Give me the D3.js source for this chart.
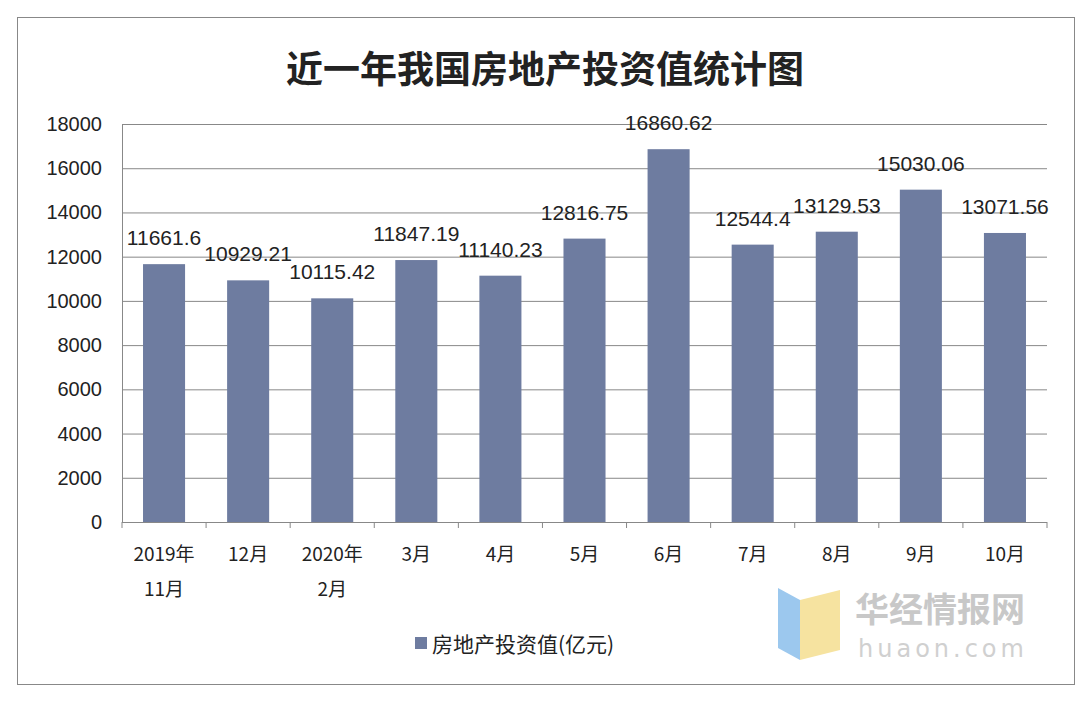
<!DOCTYPE html><html><head><meta charset="utf-8">
<script src="https://cdn.jsdelivr.net/npm/d3@7"></script>
<style>body{margin:0;background:#fff}</style></head><body><svg id="c" width="1092" height="702"></svg>
<script>
const categories=[["2019年","11月"],["12月"],["2020年","2月"],["3月"],["4月"],["5月"],["6月"],["7月"],["8月"],["9月"],["10月"]];
const values=[11661.6,10929.21,10115.42,11847.19,11140.23,12816.75,16860.62,12544.4,13129.53,15030.06,13071.56];
const labels=["11661.6","10929.21","10115.42","11847.19","11140.23","12816.75","16860.62","12544.4","13129.53","15030.06","13071.56"];
const yTicks=[0,2000,4000,6000,8000,10000,12000,14000,16000,18000];
const svg=d3.select("#c");
svg.append("rect").attr("x",17.5).attr("y",17.5).attr("width",1057).attr("height",667).attr("fill","#fff").attr("stroke","#888");
svg.append("text").attr("x",545).attr("y",83).attr("text-anchor","middle").attr("font-family","Noto Sans CJK SC").attr("font-weight","bold").attr("font-size",37).attr("fill","#222").text("近一年我国房地产投资值统计图");
const x=d3.scaleBand().domain(d3.range(11)).range([122,1047]).paddingInner(0.5).paddingOuter(0.25);
const y=d3.scaleLinear().domain([0,18000]).range([522,124]);
svg.append("g").selectAll("line").data(yTicks).join("line").attr("x1",122).attr("x2",1047).attr("y1",d=>y(d)+.5).attr("y2",d=>y(d)+.5).attr("stroke","#888");
svg.append("g").selectAll("text").data(yTicks).join("text").attr("x",102).attr("y",d=>y(d)+7).attr("text-anchor","end").attr("font-family","Liberation Sans").attr("font-size",20).attr("fill","#222").text(d=>d);
svg.append("line").attr("x1",122.5).attr("x2",122.5).attr("y1",124).attr("y2",522).attr("stroke","#888");
const step=(1047-122)/11;
svg.append("g").selectAll("line").data(d3.range(12)).join("line").attr("x1",d=>122+d*step).attr("x2",d=>122+d*step).attr("y1",522).attr("y2",528).attr("stroke","#888");
svg.append("g").selectAll("rect").data(values).join("rect").attr("x",(d,i)=>x(i)).attr("width",x.bandwidth()).attr("y",d=>y(d)).attr("height",d=>522-y(d)).attr("fill","#6e7ca0");
svg.append("g").selectAll("text").data(values).join("text").attr("x",(d,i)=>x(i)+x.bandwidth()/2).attr("y",d=>y(d)-19).attr("text-anchor","middle").attr("font-family","Liberation Sans").attr("font-size",21).attr("fill","#222").text((d,i)=>labels[i]);
categories.forEach((c,i)=>{c.forEach((t,j)=>{svg.append("text").attr("x",x(i)+x.bandwidth()/2).attr("y",561+j*35).attr("text-anchor","middle").attr("font-family","Noto Sans CJK SC").attr("font-size",19).attr("fill","#222").text(t);});});
svg.append("rect").attr("x",415).attr("y",637).attr("width",12).attr("height",12).attr("fill","#6e7ca0");
svg.append("text").attr("x",432).attr("y",652).attr("font-family","Noto Sans CJK SC").attr("font-size",21).attr("fill","#222").text("房地产投资值(亿元)");
svg.append("polygon").attr("points","778,588 800,600 800,660 778,648").attr("fill","#9cc8ee");
svg.append("polygon").attr("points","800,600 840,590 840,650 800,660").attr("fill","#f6e3a0");
svg.append("text").attr("x",855).attr("y",622).attr("font-family","Noto Sans CJK SC").attr("font-weight","bold").attr("font-size",34).attr("fill","#c8c8c8").text("华经情报网");
svg.append("text").attr("x",858).attr("y",657).attr("font-family","DejaVu Sans").attr("font-size",24).attr("letter-spacing",4).attr("fill","#d0d0d0").text("huaon.com");
</script></body></html>
